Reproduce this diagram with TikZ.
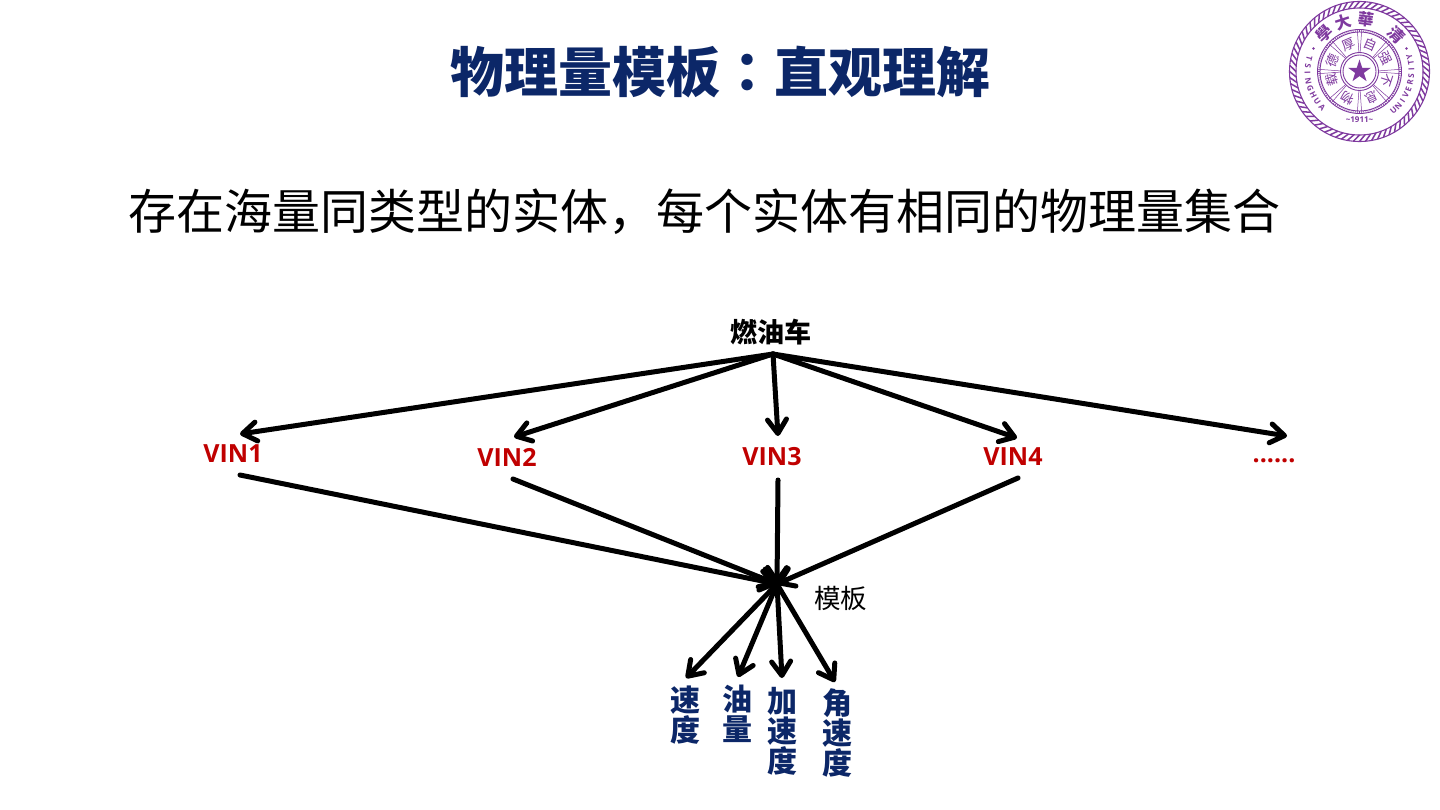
\documentclass[tikz,border=0pt]{standalone}
\usepackage{fontspec}
\setmainfont{Noto Sans CJK SC}
\newfontfamily\latn{Open Sans}
\newfontfamily\cjktc{Noto Sans CJK TC}
\usetikzlibrary{arrows.meta,shapes.geometric}
\definecolor{navy}{HTML}{0C2768}
\definecolor{vinred}{HTML}{C00000}
\definecolor{seal}{HTML}{7F3A9F}
\tikzset{
  conn/.style={line width=5pt,line cap=round,draw=black,-{Straight Barb[length=14pt,width=19pt,line width=5pt,round]}},
  plainlab/.style={inner sep=0pt,text=black},
  vinlab/.style={inner sep=0pt,text=vinred,font=\latn\bfseries\fontsize{25}{25}\selectfont},
  qty/.style={inner sep=0pt,text=navy,align=center,font=\bfseries\fontsize{30}{30}\selectfont},
  sealtxt/.style={inner sep=0pt,text=seal,font=\latn\bfseries\fontsize{8}{8}\selectfont},
  sealcjk/.style={inner sep=0pt,text=seal,font=\cjktc\bfseries\fontsize{16}{16}\selectfont},
  sealin/.style={inner sep=0pt,text=seal,font=\cjktc\fontsize{13}{13}\selectfont},
}
\begin{document}
\begin{tikzpicture}[x=1pt,y=-1pt]
\useasboundingbox (0,0) rectangle (1440,810);
\fill[white] (0,0) rectangle (1440,810);
% titles
\node[inner sep=0pt,text=navy,font=\bfseries\fontsize{54}{54}\selectfont] (title) at (720,72) {物理量模板{\cjktc ：}直观理解};
\node[plainlab,font=\fontsize{48}{48}\selectfont] (sub) at (704,212) {存在海量同类型的实体，每个实体有相同的物理量集合};
% labels
\node[plainlab,font=\bfseries\fontsize{27}{27}\selectfont] (car) at (770.5,332) {燃油车};
\node[vinlab] (v1) at (233,454) {VIN1};
\node[vinlab] (v2) at (507,457) {VIN2};
\node[vinlab] (v3) at (772,457) {VIN3};
\node[vinlab] (v4) at (1013,457) {VIN4};
\node[vinlab] (v5) at (1274,461) {......};
\node[plainlab,font=\fontsize{26.5}{27}\selectfont] (tpl) at (840.5,598) {模板};
\node[qty] (q1) at (685,715) {速\\度};
\node[qty] (q2) at (737,714) {油\\量};
\node[qty] (q3) at (782,731) {加\\速\\度};
\node[qty] (q4) at (837,733) {角\\速\\度};
% connector end points
\coordinate (top) at (773,354);
\coordinate (hub) at (777,584);
\coordinate (a1) at (240,434);
\coordinate (a2) at (514,437);
\coordinate (a3) at (778,436);
\coordinate (a4) at (1017,438);
\coordinate (a5) at (1287,436);
\coordinate (b1) at (240,475);
\coordinate (b2) at (513,479);
\coordinate (b3) at (778,480);
\coordinate (b4) at (1018,478);
\coordinate (c1) at (686,678);
\coordinate (c2) at (738,677);
\coordinate (c3) at (782,678);
\coordinate (c4) at (835,682);
\foreach \e in {a1,a2,a3,a4,a5} \draw[conn] (top) -- (\e);
\foreach \s in {b1,b2,b3,b4} \draw[conn] (\s) -- (hub);
\foreach \e in {c1,c2,c3,c4} \draw[conn] (hub) -- (\e);
% seal
\begin{scope}[shift={(1359.5,71.5)}]
  \draw[seal,line width=1.1pt] (0,0) circle (70);
  \draw[seal,line width=1.1pt] (0,0) circle (63.5);
  \foreach \a in {0,5,...,355}
    \draw[seal,line width=1.5pt] (\a:63.5) -- (\a+5:70);
  \draw[seal,line width=0.9pt] (0,0) circle (42);
  \draw[seal,line width=0.9pt] (0,0) circle (39.5);
  \foreach \a in {0,3,...,357}
    \draw[seal,line width=0.5pt] (\a:39.5) -- (\a:42);
  \draw[seal,line width=0.9pt] (0,0) circle (19);
  \draw[seal,line width=0.9pt] (0,0) circle (16.5);
  \foreach \a in {0,45,...,315} {
    \draw[seal,line width=0.5pt] (\a-1.8:19) -- (\a-3:39.5);
    \draw[seal,line width=0.5pt] (\a+1.8:19) -- (\a+3:39.5);
  }
  \node[star,star points=5,star point ratio=2.618,fill=seal,inner sep=0pt,minimum size=24pt] (sealstar) at (0,0) {};
  \foreach \c/\a in {清/45,華/83,大/108,學/133}
    \node[sealcjk,rotate=\a-90] at ({-\a}:52) {\c};
  \foreach \c/\a in {自/67,强/26,不/-18,息/-65,物/-115,载/-163,德/157,厚/113}
    \node[sealin,rotate=\a-90] at ({-\a}:29) {\c};
  \foreach \c [count=\i from 0] in {T,S,I,N,G,H,U,A}
    \node[sealtxt,rotate={165+\i*8.4+90}] at ({-(165+\i*8.4)}:52) {\c};
  \foreach \c [count=\i from 0] in {U,N,I,V,E,R,S,I,T,Y}
    \node[sealtxt,rotate={311+\i*7.3+90}] at ({-(311+\i*7.3)}:52) {\c};
  \node[sealtxt] at (0,48) {\textasciitilde 1911\textasciitilde};
  \fill[seal] (-46,-23) circle (1.3);
  \fill[seal] (47,-23) circle (1.3);
\end{scope}
\end{tikzpicture}
\end{document}
